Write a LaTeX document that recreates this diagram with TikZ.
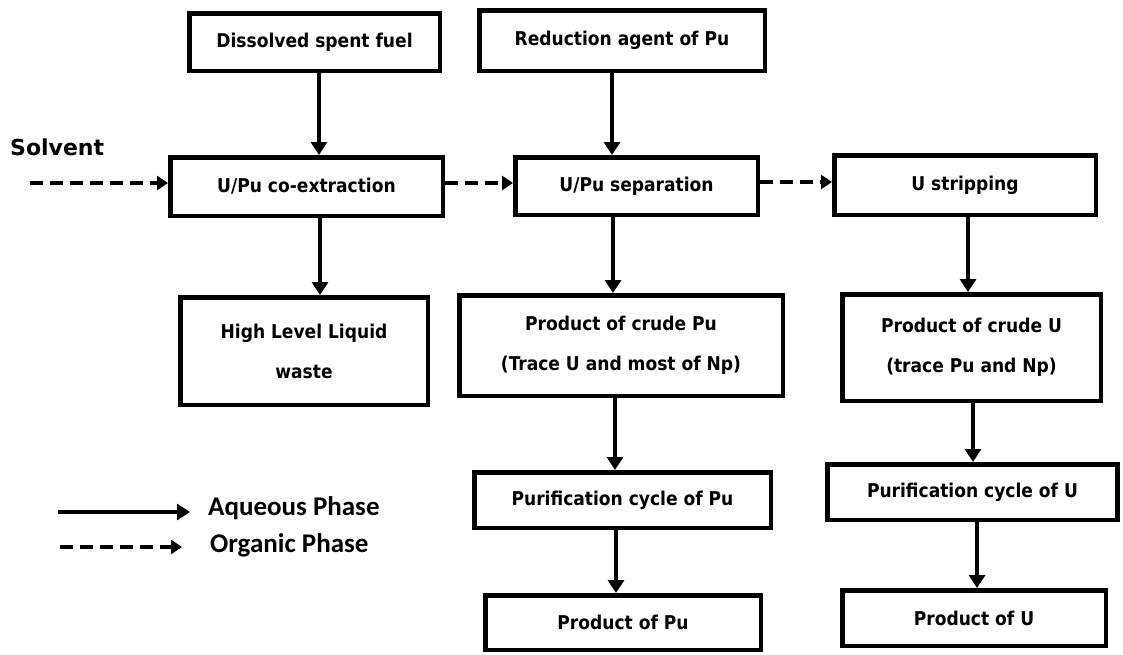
\documentclass[tikz,border=0pt]{standalone}
\usepackage{fontspec}
\setmainfont{DejaVu Sans}
\newfontfamily\boxfont{DejaVu Sans Condensed}
\newfontfamily\legfont{Carlito}
\usetikzlibrary{arrows.meta}
\begin{document}
\begin{tikzpicture}[x=1pt,y=-1pt,
 box/.style={draw, line width=4.5pt, fill=white, inner sep=0pt, align=center, font=\boxfont\bfseries\fontsize{19}{40}\selectfont},
 aq/.style={line width=3.5pt, -{Triangle[length=13pt,width=16pt]}},
 org/.style={line width=3.5pt, dash pattern=on 13pt off 7pt, -{Triangle[length=11pt,width=14pt]}},
 lbl/.style={inner sep=0pt, anchor=west},
]
\useasboundingbox[fill=white] (0,0) rectangle (1123,654);
% boxes
\node[box, minimum width=250.5pt, minimum height=57.5pt] (A) at (314.5,42) {Dissolved spent fuel};
\node[box, minimum width=285.5pt, minimum height=60.5pt] (B) at (622,40.5) {Reduction agent of Pu};
\node[box, minimum width=272.5pt, minimum height=58.5pt] (C) at (306.5,186.5) {U/Pu co-extraction};
\node[box, minimum width=242.5pt, minimum height=57.5pt] (D) at (636.5,186) {U/Pu separation};
\node[box, minimum width=261.5pt, minimum height=59.5pt] (E) at (965,185) {U stripping};
\node[box, minimum width=247.5pt, minimum height=107.5pt] (F) at (304,351) {High Level Liquid\\waste};
\node[box, minimum width=323.5pt, minimum height=100.5pt] (G) at (621,345.5) {Product of crude Pu\\(Trace U and most of Np)};
\node[box, minimum width=258.5pt, minimum height=106.5pt] (H) at (971.5,347.5) {Product of crude U\\(trace Pu and Np)};
\node[box, minimum width=296.5pt, minimum height=55.5pt] (I) at (622.5,500) {Purification cycle of Pu};
\node[box, minimum width=275.5pt, minimum height=54.5pt] (J) at (623,622.5) {Product of Pu};
\node[box, minimum width=290pt, minimum height=55.5pt] (K) at (972.5,492) {Purification cycle of U};
\node[box, minimum width=263.5pt, minimum height=55.5pt] (L) at (974,618) {Product of U};
% aqueous arrows
\draw[aq] (A.south -| 319,0) -- (C.north -| 319,0);
\draw[aq] (C.south -| 320,0) -- (F.north -| 320,0);
\draw[aq] (B.south -| 612,0) -- (D.north -| 612,0);
\draw[aq] (D.south -| 613,0) -- (G.north -| 613,0);
\draw[aq] (G.south -| 615,0) -- (I.north -| 615,0);
\draw[aq] (I.south -| 616,0) -- (J.north -| 616,0);
\draw[aq] (E.south -| 968,0) -- (H.north -| 968,0);
\draw[aq] (H.south -| 973,0) -- (K.north -| 973,0);
\draw[aq] (K.south -| 977,0) -- (L.north -| 977,0);
% organic arrows
\coordinate (s0) at (30,183);
\draw[org] (s0) -- (C.west |- s0);
\draw[org] (C.east |- 0,183) -- (D.west |- 0,183);
\draw[org] (D.east |- 0,182) -- (E.west |- 0,182);
\node[lbl, font=\bfseries\fontsize{22}{26}\selectfont] (solv) at (10,147) {Solvent};
% legend
\coordinate (la0) at (58,512);
\coordinate (la1) at (190,512);
\draw[aq] (la0) -- (la1);
\node[lbl, font=\legfont\bfseries\fontsize{27}{30}\selectfont] (la) at (208,508) {Aqueous Phase};
\coordinate (lo0) at (60,547);
\coordinate (lo1) at (182,547);
\draw[org] (lo0) -- (lo1);
\node[lbl, font=\legfont\bfseries\fontsize{27}{30}\selectfont] (lo) at (210,545) {Organic Phase};
\end{tikzpicture}
\end{document}
